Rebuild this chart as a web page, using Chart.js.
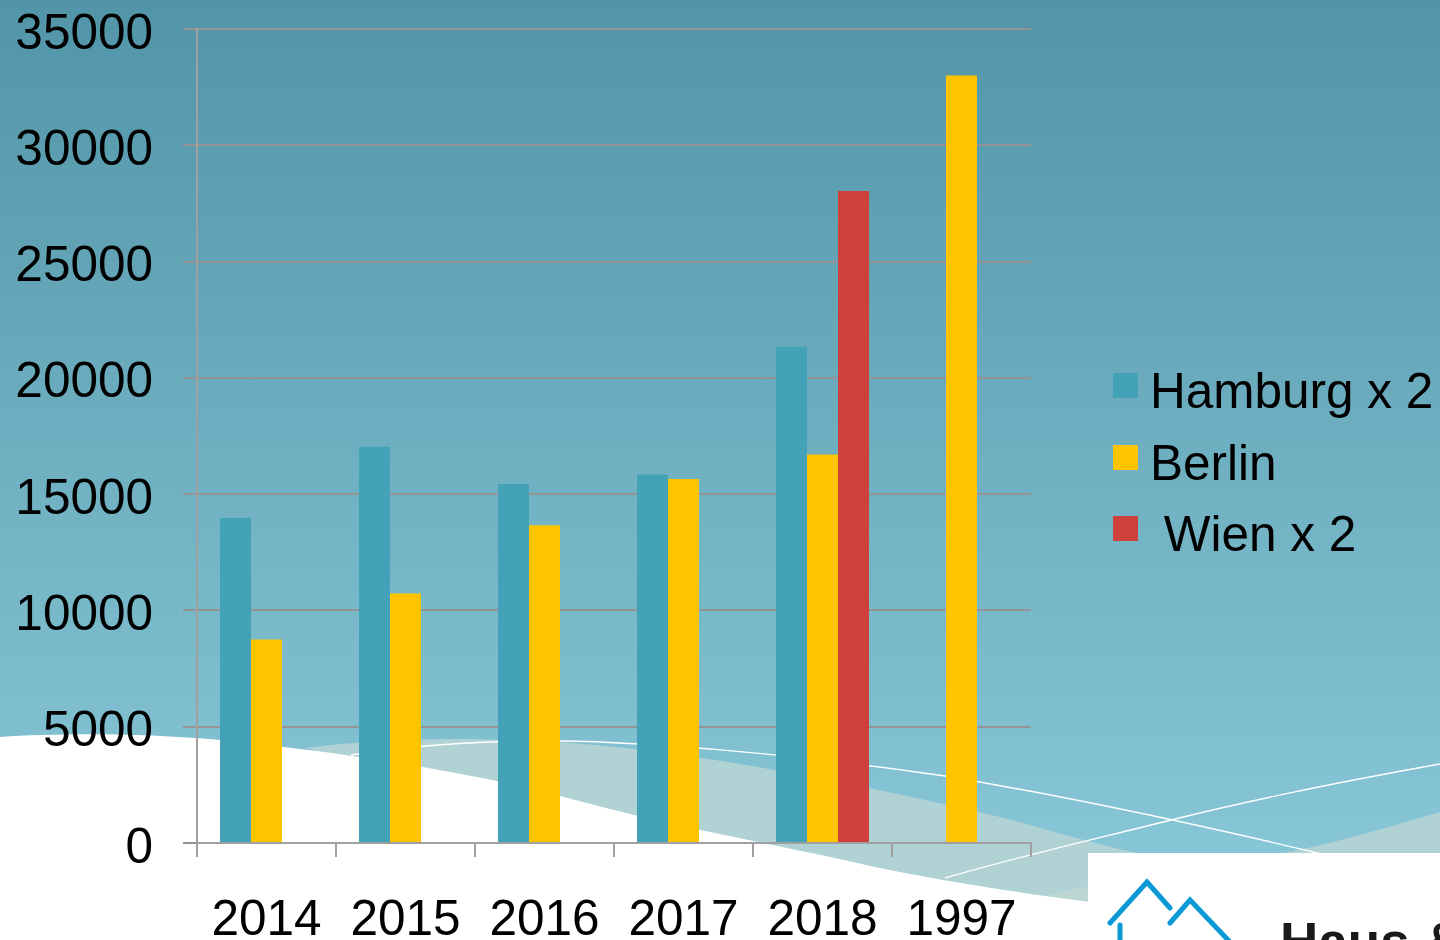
<!DOCTYPE html>
<html>
<head>
<meta charset="utf-8">
<title>Hamburg Berlin Wien</title>
<script src="https://cdn.jsdelivr.net/npm/chart.js@4/dist/chart.umd.js"></script>
<style>
html, body { margin: 0; padding: 0; width: 1440px; height: 940px; overflow: hidden; }
body { position: relative; font-family: "Liberation Sans", Arial, sans-serif; background: #6fb0c2; }
#bg, #wrap { position: absolute; left: 0; top: 0; width: 1440px; height: 940px; }
#legend { position: absolute; left: 1113px; top: 354px; color: #000; font-size: 49.5px; }
#legend .row { position: relative; height: 71.5px; line-height: 73px; padding-left: 37px; white-space: pre; }
#legend .box { position: absolute; left: 0; top: 19px; width: 25px; height: 25px; }
</style>
</head>
<body>
<svg id="bg" viewBox="0 0 1440 940" xmlns="http://www.w3.org/2000/svg">
  <defs>
    <linearGradient id="sky" x1="0" y1="0" x2="0" y2="1">
      <stop offset="0" stop-color="#5295a8"/>
      <stop offset="1" stop-color="#8ccbdb"/>
    </linearGradient>
  </defs>
  <rect width="1440" height="940" fill="url(#sky)"/>
  <path d="M305 748 C370 739 460 736 560 742 C700 752 860 784 1000 817 C1080 838 1150 862 1210 862 C1290 858 1370 832 1440 812 L1440 940 L1046 940 Z" fill="#b0d2d5"/>
  <path d="M1046 895 L1090 886 L1090 905 Z" fill="#bcd6d4"/>
  <path d="M0 737 C60 733 140 733 220 740 C340 752 470 772 560 796 C610 809 660 822 710 832 C750 840 790 849 835 858 C920 878 1000 890 1090 902 L1090 940 L0 940 Z" fill="#fff"/>
  <path d="M351 755 C420 744 500 740 560 741 C640 742 780 752 945 776 C1040 792 1180 820 1330 856" fill="none" stroke="#fff" stroke-width="1.4"/>
  <path d="M945 878 C1020 856 1100 838 1175 819 C1260 798 1350 780 1440 764" fill="none" stroke="#fff" stroke-width="1.4"/>
  <rect x="1088" y="853" width="352" height="87" fill="#fff"/>
  <path d="M1110 923 L1147 882 L1170 908 M1170 923 L1190 900 L1230 942 M1120 925 L1120 942" fill="none" stroke="#0b9ad6" stroke-width="5" stroke-linecap="round"/>
  <text x="1280" y="960" font-family="'Liberation Sans', Arial, sans-serif" font-weight="700" font-size="53" fill="#1a1a1a">Haus &amp;</text>
</svg>
<div id="wrap"><canvas id="drawChart" width="1440" height="940"></canvas></div>
<div id="legend"></div>
<script>
var years = ['2014', '2015', '2016', '2017', '2018', '1997'];
var hamburg = [13970, 17040, 15440, 15840, 21340, null];
var berlin = [8750, 10730, 13660, 15650, 16700, 33000];
var wien = [null, null, null, null, 28030, null];
var seriesNames = ['Hamburg x 2', 'Berlin', ' Wien x 2'];
var seriesColors = ['#43a2b8', '#ffc400', '#d0403a'];
var tickFont = { size: 49.5, family: '"Liberation Sans"', lineHeight: 0.24 };

var ctx = document.getElementById('drawChart').getContext('2d');
var chart = new Chart(ctx, {
	type: 'bar',
	data: {
		labels: years,
		datasets: [
			{ label: seriesNames[0], data: hamburg, backgroundColor: seriesColors[0] },
			{ label: seriesNames[1], data: berlin, backgroundColor: seriesColors[1] },
			{ label: seriesNames[2], data: wien, backgroundColor: seriesColors[2] }
		]
	},
	options: {
		responsive: false,
		animation: false,
		barPercentage: 1,
		categoryPercentage: 0.669,
		layout: { padding: { left: 0, top: 29, right: 409, bottom: 0 } },
		plugins: { legend: { display: false }, tooltip: { enabled: false } },
		scales: {
			x: {
				afterFit: function (scale) { scale.height = 97; },
				grid: { drawOnChartArea: false, color: '#a0a0a0', lineWidth: 2, tickLength: 14 },
				border: { color: '#a0a0a0', width: 2 },
				ticks: { color: '#000', font: { size: 49.5, family: '"Liberation Sans"' }, padding: 35, maxRotation: 0, autoSkip: false }
			},
			y: {
				min: 0,
				max: 35000,
				// tick padding also counts as top padding, drop it so the plot starts where it should
				afterFit: function (scale) { scale.width = 197; scale.paddingTop = 0; },
				grid: { color: '#949494', lineWidth: 2, tickLength: 14 },
				border: { color: '#a0a0a0', width: 2 },
				ticks: {
					stepSize: 5000,
					color: '#000',
					font: tickFont,
					padding: 30,
					// empty first line pushes the number a few px under its grid line, as in the picture
					callback: function (value) { return ['', String(value)]; }
				}
			}
		}
	}
});

// legend is plain html so the swatch/text gap can match
var legend = document.getElementById('legend');
chart.data.datasets.forEach(function (ds) {
	var row = document.createElement('div');
	row.className = 'row';
	var box = document.createElement('span');
	box.className = 'box';
	box.style.background = ds.backgroundColor;
	row.appendChild(box);
	row.appendChild(document.createTextNode(ds.label));
	legend.appendChild(row);
});
</script>
</body>
</html>
